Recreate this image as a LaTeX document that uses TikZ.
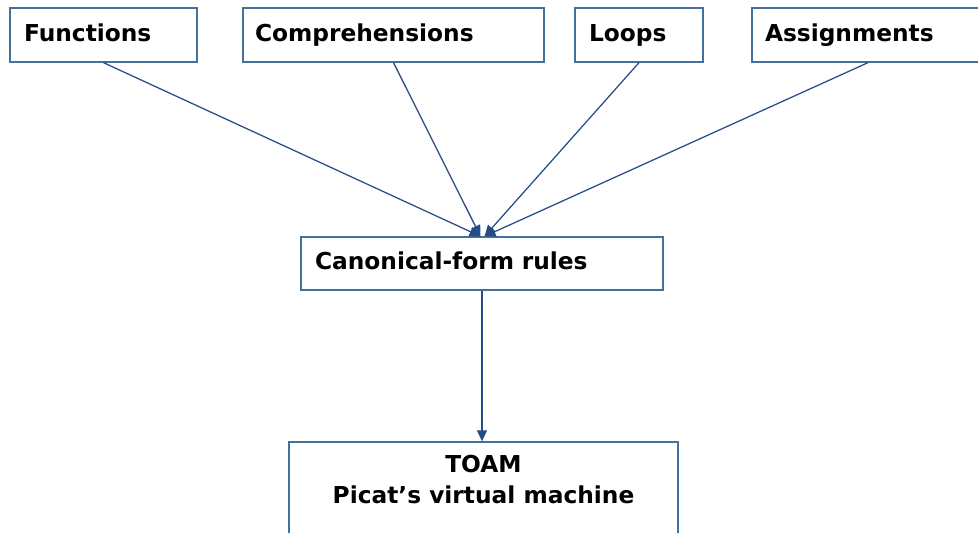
\documentclass[tikz,border=0pt]{standalone}
\usepackage{fontspec}
\setmainfont{DejaVu Sans}
\usetikzlibrary{arrows.meta}
\definecolor{boxline}{RGB}{65,113,156}
\definecolor{arrline}{RGB}{38,76,136}
\begin{document}
\begin{tikzpicture}[x=1pt,y=-1pt,
  box/.style={draw=boxline,line width=1.3pt,rectangle,font=\fontsize{23.3pt}{30pt}\selectfont\bfseries,
    text height=17pt,text depth=5pt,align=left,inner ysep=0pt},
  conn/.style={draw=arrline,line width=1.25pt,-{Triangle[width=10pt,length=11pt]}}]
\useasboundingbox (0,0) rectangle (978,533);
\node[box,minimum width=187pt,minimum height=54pt,text width=159pt,inner xsep=14pt] (fun) at (103.5,35) {Functions};
\node[box,minimum width=301pt,minimum height=54pt,text width=277pt,inner xsep=12pt] (comp) at (393.5,35) {Comprehensions};
\node[box,minimum width=128pt,minimum height=54pt,text width=100pt,inner xsep=14pt] (loop) at (639,35) {Loops};
\node[box,minimum width=232pt,minimum height=54pt,text width=206pt,inner xsep=13pt] (asg) at (868,35) {Assignments};
\node[box,minimum width=362pt,minimum height=53pt,text width=334pt,inner xsep=14pt] (canon) at (482,263.5) {Canonical-form rules};
\node[draw=boxline,line width=1.3pt,rectangle,minimum width=389pt,minimum height=140pt,inner sep=0pt] (toam) at (483.5,512) {};
\node[anchor=north,inner sep=0pt,align=center,font=\fontsize{23.3pt}{31pt}\selectfont\bfseries] (toamtext) at (483.5,455) {TOAM\\Picat’s virtual machine};
\coordinate (inL) at ([xshift=-1.5pt]canon.north);
\coordinate (inR) at ([xshift=2.5pt]canon.north);
\draw[conn] (fun.south) -- (inL);
\draw[conn] (comp.south) -- (inL);
\draw[conn] (loop.south) -- (inR);
\draw[conn] (asg.south) -- (inR);
\draw[conn] (canon.south) -- (canon.south |- toam.north);
\end{tikzpicture}
\end{document}
